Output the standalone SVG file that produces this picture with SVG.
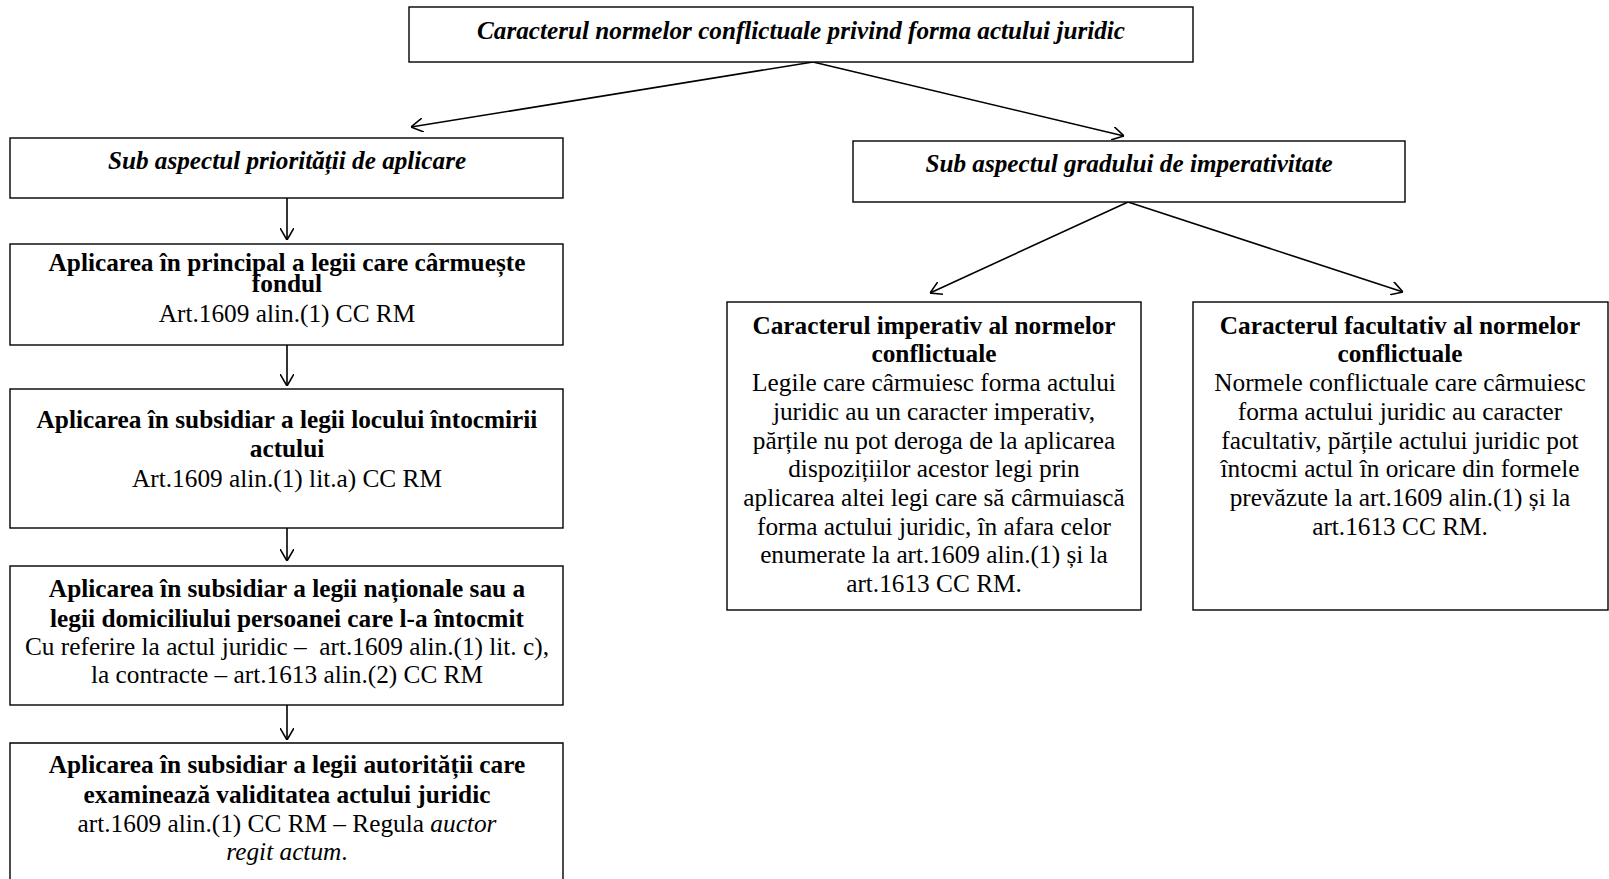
<svg xmlns="http://www.w3.org/2000/svg" width="1609" height="879" viewBox="0 0 1609 879">
<style>
.box{fill:#fff;stroke:#000;stroke-width:1.4}
.t{font-family:"Liberation Serif","Times New Roman",serif;text-anchor:middle;fill:#000}
.hi{font-size:25.2px;font-style:italic;font-weight:bold}
.b{font-size:25.3px;font-weight:bold}
.r{font-size:25.3px}
.con{stroke:#000;stroke-width:1.6;fill:none;marker-end:url(#ah)}
</style>
<defs>
<marker id="ah" viewBox="0 0 12 14" refX="12" refY="7" markerWidth="12" markerHeight="14" markerUnits="userSpaceOnUse" orient="auto">
<path d="M0,0 L12,7 L0,14" fill="none" stroke="#000" stroke-width="1.6"/>
</marker>
</defs>
<rect width="1609" height="879" fill="#fff"/>
<g id="connectors">
<line class="con" x1="813" y1="62" x2="411" y2="127"/>
<line class="con" x1="813" y1="62" x2="1124" y2="136"/>
<line class="con" x1="287" y1="198" x2="287" y2="240"/>
<line class="con" x1="287" y1="345" x2="287" y2="386"/>
<line class="con" x1="287" y1="528" x2="287" y2="561"/>
<line class="con" x1="287" y1="705" x2="287" y2="740"/>
<line class="con" x1="1128" y1="202" x2="930" y2="293"/>
<line class="con" x1="1128" y1="202" x2="1403" y2="292"/>
</g>
<g id="n-root">
<rect class="box" x="409" y="7" width="784" height="55"/>
<text class="t hi" x="801" y="39">Caracterul normelor conflictuale privind forma actului juridic</text>
</g>
<g id="n-prioritate">
<rect class="box" x="10" y="138" width="553" height="60"/>
<text class="t hi" x="287" y="169">Sub aspectul priorității de aplicare</text>
</g>
<g id="n-imperativitate">
<rect class="box" x="853" y="141" width="552" height="61"/>
<text class="t hi" x="1129" y="172">Sub aspectul gradului de imperativitate</text>
</g>
<g id="n-fond">
<rect class="box" x="10" y="244" width="553" height="101"/>
<text class="t b" x="287" y="271">Aplicarea în principal a legii care cârmuește</text>
<text class="t b" x="287" y="292">fondul</text>
<text class="t r" x="287" y="322">Art.1609 alin.(1) CC RM</text>
</g>
<g id="n-loc">
<rect class="box" x="10" y="389" width="553" height="139"/>
<text class="t b" x="287" y="428">Aplicarea în subsidiar a legii locului întocmirii</text>
<text class="t b" x="287" y="457">actului</text>
<text class="t r" x="287" y="487">Art.1609 alin.(1) lit.a) CC RM</text>
</g>
<g id="n-national">
<rect class="box" x="10" y="566" width="553" height="139"/>
<text class="t b" x="287" y="597">Aplicarea în subsidiar a legii naționale sau a</text>
<text class="t b" x="287" y="627">legii domiciliului persoanei care l-a întocmit</text>
<text class="t r" x="287" y="655" xml:space="preserve">Cu referire la actul juridic –  art.1609 alin.(1) lit. c),</text>
<text class="t r" x="287" y="683">la contracte – art.1613 alin.(2) CC RM</text>
</g>
<g id="n-autoritate">
<path d="M10,890 V743 H563 V890" fill="#fff" stroke="#000" stroke-width="1.4"/>
<text class="t b" x="287" y="773">Aplicarea în subsidiar a legii autorității care</text>
<text class="t b" x="287" y="803">examinează validitatea actului juridic</text>
<text class="t r" x="287" y="832">art.1609 alin.(1) CC RM – Regula <tspan font-style="italic">auctor</tspan></text>
<text class="t r" x="287" y="860"><tspan font-style="italic">regit actum</tspan>.</text>
</g>
<g id="n-imperativ">
<rect class="box" x="727" y="302" width="414" height="308"/>
<text class="t b" x="934" y="334">Caracterul imperativ al normelor</text>
<text class="t b" x="934" y="362">conflictuale</text>
<text class="t r" x="934" y="391">Legile care cârmuiesc forma actului</text>
<text class="t r" x="934" y="420">juridic au un caracter imperativ,</text>
<text class="t r" x="934" y="449">părțile nu pot deroga de la aplicarea</text>
<text class="t r" x="934" y="477">dispozițiilor acestor legi prin</text>
<text class="t r" x="934" y="506">aplicarea altei legi care să cârmuiască</text>
<text class="t r" x="934" y="535">forma actului juridic, în afara celor</text>
<text class="t r" x="934" y="563">enumerate la art.1609 alin.(1) și la</text>
<text class="t r" x="934" y="592">art.1613 CC RM.</text>
</g>
<g id="n-facultativ">
<rect class="box" x="1193" y="302" width="415" height="308"/>
<text class="t b" x="1400" y="334">Caracterul facultativ al normelor</text>
<text class="t b" x="1400" y="362">conflictuale</text>
<text class="t r" x="1400" y="391">Normele conflictuale care cârmuiesc</text>
<text class="t r" x="1400" y="420">forma actului juridic au caracter</text>
<text class="t r" x="1400" y="449">facultativ, părțile actului juridic pot</text>
<text class="t r" x="1400" y="477">întocmi actul în oricare din formele</text>
<text class="t r" x="1400" y="506">prevăzute la art.1609 alin.(1) și la</text>
<text class="t r" x="1400" y="535">art.1613 CC RM.</text>
</g>
</svg>
